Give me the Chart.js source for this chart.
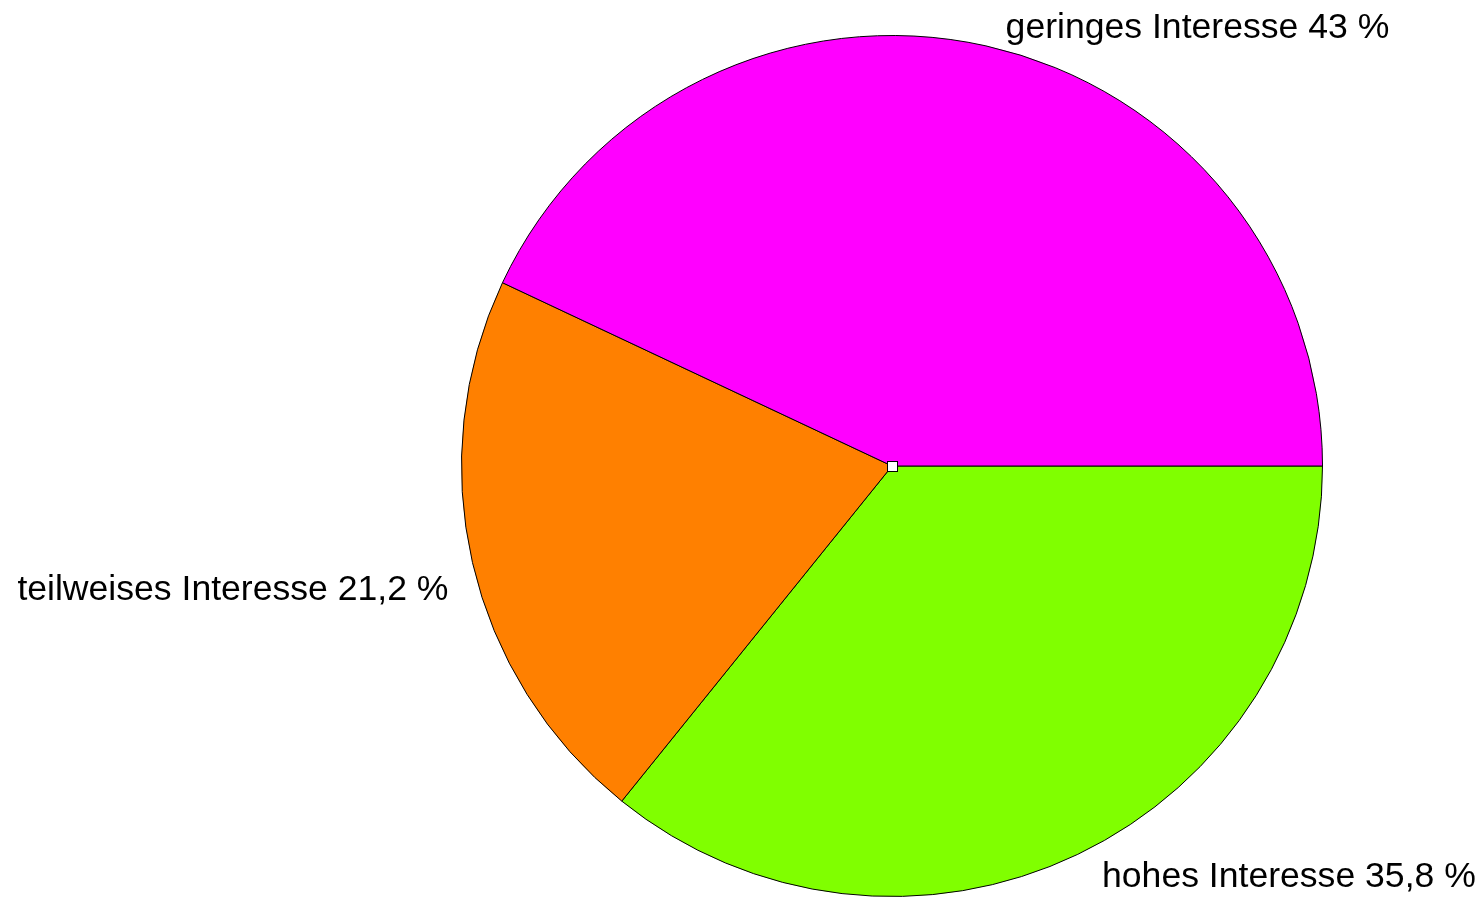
<!DOCTYPE html>
<html>
<head>
<meta charset="utf-8">
<script src="https://cdn.jsdelivr.net/npm/chart.js@4.4.0/dist/chart.umd.min.js"></script>
<style>
  html, body { margin: 0; padding: 0; background: #ffffff; }
  #wrap { width: 1479px; height: 897px; }
</style>
</head>
<body>
<div id="wrap"><canvas id="pie-chart" width="1479" height="897"></canvas></div>
<script>
// slices listed clockwise from 3 o'clock (R draws them counter-clockwise)
const categories = ['hohes Interesse', 'teilweises Interesse', 'geringes Interesse']
const shares = [35.8, 21.2, 43]
const sliceColors = ['#80ff00', '#ff8000', '#ff00ff']

const FONT = '35.6px "Liberation Sans", Arial, sans-serif'

const pieLabels = {
  id: 'pieLabels',
  afterDraw(chart, args, opts) {
    const ctx = chart.ctx
    const arcs = chart.getDatasetMeta(0).data
    ctx.save()
    ctx.font = FONT
    ctx.fillStyle = '#000000'
    ctx.textBaseline = 'middle'
    arcs.forEach((arc, i) => {
      const mid = (arc.startAngle + arc.endAngle) / 2
      const r = arc.outerRadius * 1.05
      let x = arc.x + r * Math.cos(mid)
      let y = arc.y + r * Math.sin(mid) + 3 + (opts.nudgeY[i] || 0)
      const right = Math.cos(mid) >= 0
      ctx.textAlign = right ? 'left' : 'right'
      x += right ? 15 : -3
      const txt = categories[i] + ' ' + String(shares[i]).replace('.', ',') + ' %'
      ctx.fillText(txt, x, y)
    })
    // little marker R leaves in the middle
    const c = arcs[0]
    ctx.fillStyle = '#ffffff'
    ctx.strokeStyle = '#000000'
    ctx.lineWidth = 1
    ctx.fillRect(Math.round(c.x) - 4.5, Math.round(c.y) - 4.5, 10, 10)
    ctx.strokeRect(Math.round(c.x) - 4.5, Math.round(c.y) - 4.5, 10, 10)
    ctx.restore()
  }
}

const ctx = document.getElementById('pie-chart')

const config = {
  type: 'pie',
  data: {
    labels: categories,
    datasets: [{
      data: shares,
      backgroundColor: sliceColors,
      borderColor: '#000000',
      borderWidth: 1,
      hoverOffset: 0
    }]
  },
  options: {
    responsive: false,
    animation: false,
    events: [],
    rotation: 90,
    layout: {
      padding: { left: 461, right: 156, top: 35, bottom: 0 }
    },
    plugins: {
      legend: { display: false },
      tooltip: { enabled: false },
      pieLabels: { nudgeY: [0, 20, 0] }
    }
  },
  plugins: [pieLabels]
}

const pieChart = new Chart(ctx, config)
</script>
</body>
</html>
